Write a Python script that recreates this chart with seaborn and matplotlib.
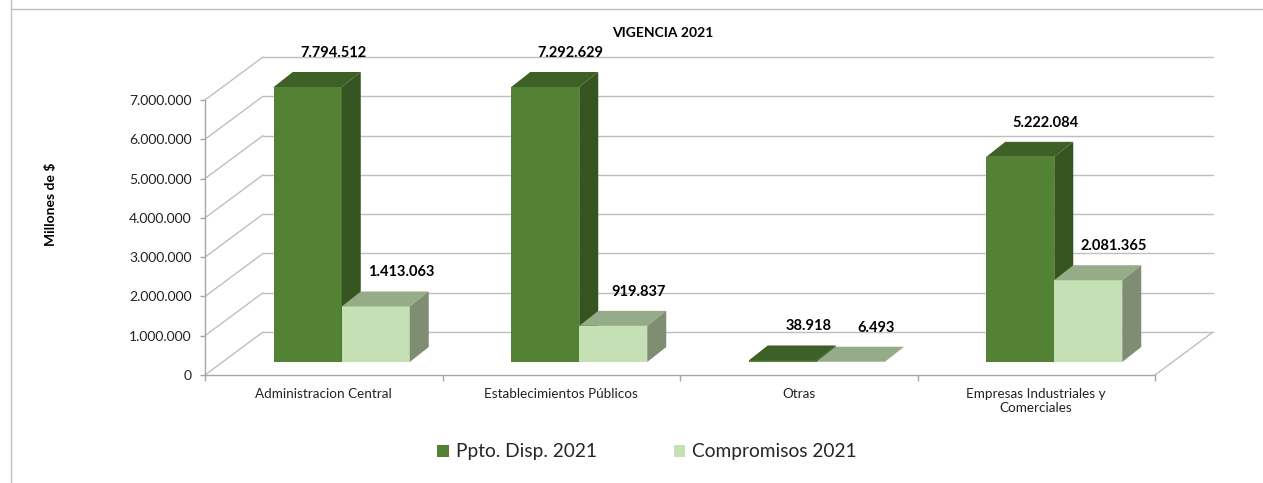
import numpy as np
import pandas as pd
import matplotlib
matplotlib.use("Agg")
import matplotlib.pyplot as plt
from matplotlib.patches import Polygon, Patch
from matplotlib.lines import Line2D
from matplotlib.ticker import FuncFormatter
import seaborn as sns

# ---------------- data ----------------
categories = ["Administracion Central", "Establecimientos Públicos", "Otras",
              "Empresas Industriales y Comerciales"]
tick_labels = ["Administracion Central", "Establecimientos Públicos", "Otras",
               "Empresas Industriales y\nComerciales"]
series = ["Ppto. Disp. 2021", "Compromisos 2021"]
ppto = [7794512, 7292629, 38918, 5222084]
compromisos = [1413063, 919837, 6493, 2081365]
y_ticks = [0, 1000000, 2000000, 3000000, 4000000, 5000000, 6000000, 7000000]
title = "VIGENCIA 2021"
ylabel = "Millones de $"

# ---------------- style ----------------
sns.set_theme(style="white")
plt.rcParams["font.family"] = ["Lato", "DejaVu Sans"]

W, H = 1263, 483
fig = plt.figure(figsize=(W / 100, H / 100), dpi=100)
fig.patch.set_facecolor("white")

ax_l, ax_r, ax_t, ax_b = 205, 1155, 100, 375
ax = fig.add_axes([ax_l / W, 1 - ax_b / H, (ax_r - ax_l) / W, (ax_b - ax_t) / H])
YMAX = y_ticks[-1]
ncat = len(categories)
ax.set_xlim(-0.5, ncat - 0.5)
ax.set_ylim(0, YMAX)
ax.set_facecolor("none")

px_x = (ax_r - ax_l) / ncat       # pixels per category unit
px_y = (ax_b - ax_t) / YMAX       # pixels per value unit


def ddx(p):
    return p / px_x


def ddy(p):
    return p / px_y


floor_dx, floor_dy = ddx(58), ddy(43)
bar_off_x, bar_off_y = ddx(18), ddy(13)
depth_x, depth_y = ddx(19), ddy(15)

grid_c = "#BFBFBF"
axis_c = "#A6A6A6"

front = ["#548235", "#C5E0B4"]
top = ["#3D6027", "#96AC89"]
side = ["#35541F", "#7F8E72"]

df = pd.DataFrame({
    "categoria": categories * 2,
    "serie": [series[0]] * ncat + [series[1]] * ncat,
    "valor": ppto + compromisos,
})
df["visible"] = np.minimum(df["valor"], YMAX)

# back wall + floor
for v in y_ticks:
    ax.plot([-0.5, -0.5 + floor_dx], [v, v + floor_dy], color=grid_c, lw=1,
            clip_on=False, zorder=1)
    ax.plot([-0.5 + floor_dx, ncat - 0.5 + floor_dx], [v + floor_dy] * 2,
            color=grid_c, lw=1, clip_on=False, zorder=1)
ax.plot([ncat - 0.5, ncat - 0.5 + floor_dx], [0, floor_dy], color=grid_c, lw=1,
        clip_on=False, zorder=1)

sns.barplot(data=df, x="categoria", y="visible", hue="serie", order=categories,
            hue_order=series, palette=front, width=2 * 68 / px_x, saturation=1,
            legend=False, errorbar=None, linewidth=0, ax=ax)

values = [ppto, compromisos]
for i, cont in enumerate(ax.containers):
    for j, rect in enumerate(cont.patches):
        x0 = rect.get_x() + bar_off_x
        w = rect.get_width()
        h = rect.get_height()
        y0 = bar_off_y
        rect.set_x(x0)
        rect.set_y(y0)
        rect.set_clip_on(False)
        rect.set_zorder(3 + i)
        top_poly = Polygon([(x0, y0 + h), (x0 + w, y0 + h),
                            (x0 + w + depth_x, y0 + h + depth_y),
                            (x0 + depth_x, y0 + h + depth_y)],
                           closed=True, facecolor=top[i], edgecolor="none",
                           clip_on=False, zorder=3 + i)
        side_poly = Polygon([(x0 + w, y0), (x0 + w + depth_x, y0 + depth_y),
                             (x0 + w + depth_x, y0 + h + depth_y), (x0 + w, y0 + h)],
                            closed=True, facecolor=side[i], edgecolor="none",
                            clip_on=False, zorder=3 + i)
        ax.add_patch(top_poly)
        ax.add_patch(side_poly)
        lbl = f"{values[i][j]:,}".replace(",", ".")
        ax.text(x0 + w / 2 + depth_x / 2 + ddx(16), y0 + h + ddy(34), lbl,
                ha="center", va="center", fontsize=10.5, fontweight="bold",
                color="black", zorder=10, clip_on=False)

# axes styling
for s in ["top", "right"]:
    ax.spines[s].set_visible(False)
ax.spines["left"].set_color(axis_c)
ax.spines["bottom"].set_color(axis_c)
ax.spines["left"].set_linewidth(1)
ax.spines["bottom"].set_linewidth(1)

ax.set_yticks(y_ticks)
ax.yaxis.set_major_formatter(FuncFormatter(lambda v, p: f"{int(v):,}".replace(",", ".")))
ax.tick_params(axis="y", left=True, length=3.5, width=1, color=axis_c, pad=6,
               labelsize=10, labelcolor="#222222")

ax.set_xticks(range(ncat))
ax.set_xticklabels(tick_labels)
ax.set_xticks([k - 0.5 for k in range(ncat + 1)], minor=True)
ax.tick_params(axis="x", which="major", bottom=False, length=0, pad=9,
               labelsize=9.7, labelcolor="#222222")
ax.tick_params(axis="x", which="minor", bottom=True, length=4, width=1, color=axis_c)
ax.set_xlabel("")

ax.set_ylabel(ylabel, fontsize=10, fontweight="bold", color="black")
ax.yaxis.set_label_coords((51 - ax_l) / (ax_r - ax_l), (ax_b - 204) / (ax_b - ax_t))
ax.yaxis.label.set_va("center")

fig.text(663 / W, 1 - 33 / H, title, ha="center", va="center", fontsize=10,
         fontweight="bold", color="black")

handles = [Patch(facecolor=front[0], edgecolor="none"),
           Patch(facecolor=front[1], edgecolor="none")]
fig.legend(handles, series, loc="center", bbox_to_anchor=(647 / W, 1 - 452 / H),
           ncol=2, frameon=False, fontsize=13.8, handlelength=0.62, handleheight=0.62,
           handletextpad=0.35, columnspacing=4.0)

# outer frame lines
fig.add_artist(Line2D([11 / W, 11 / W], [0, 1], transform=fig.transFigure,
                      color=grid_c, lw=1))
fig.add_artist(Line2D([11 / W, 1], [1 - 9 / H, 1 - 9 / H], transform=fig.transFigure,
                      color=grid_c, lw=1))

fig.savefig("out.png", dpi=100, facecolor="white")
